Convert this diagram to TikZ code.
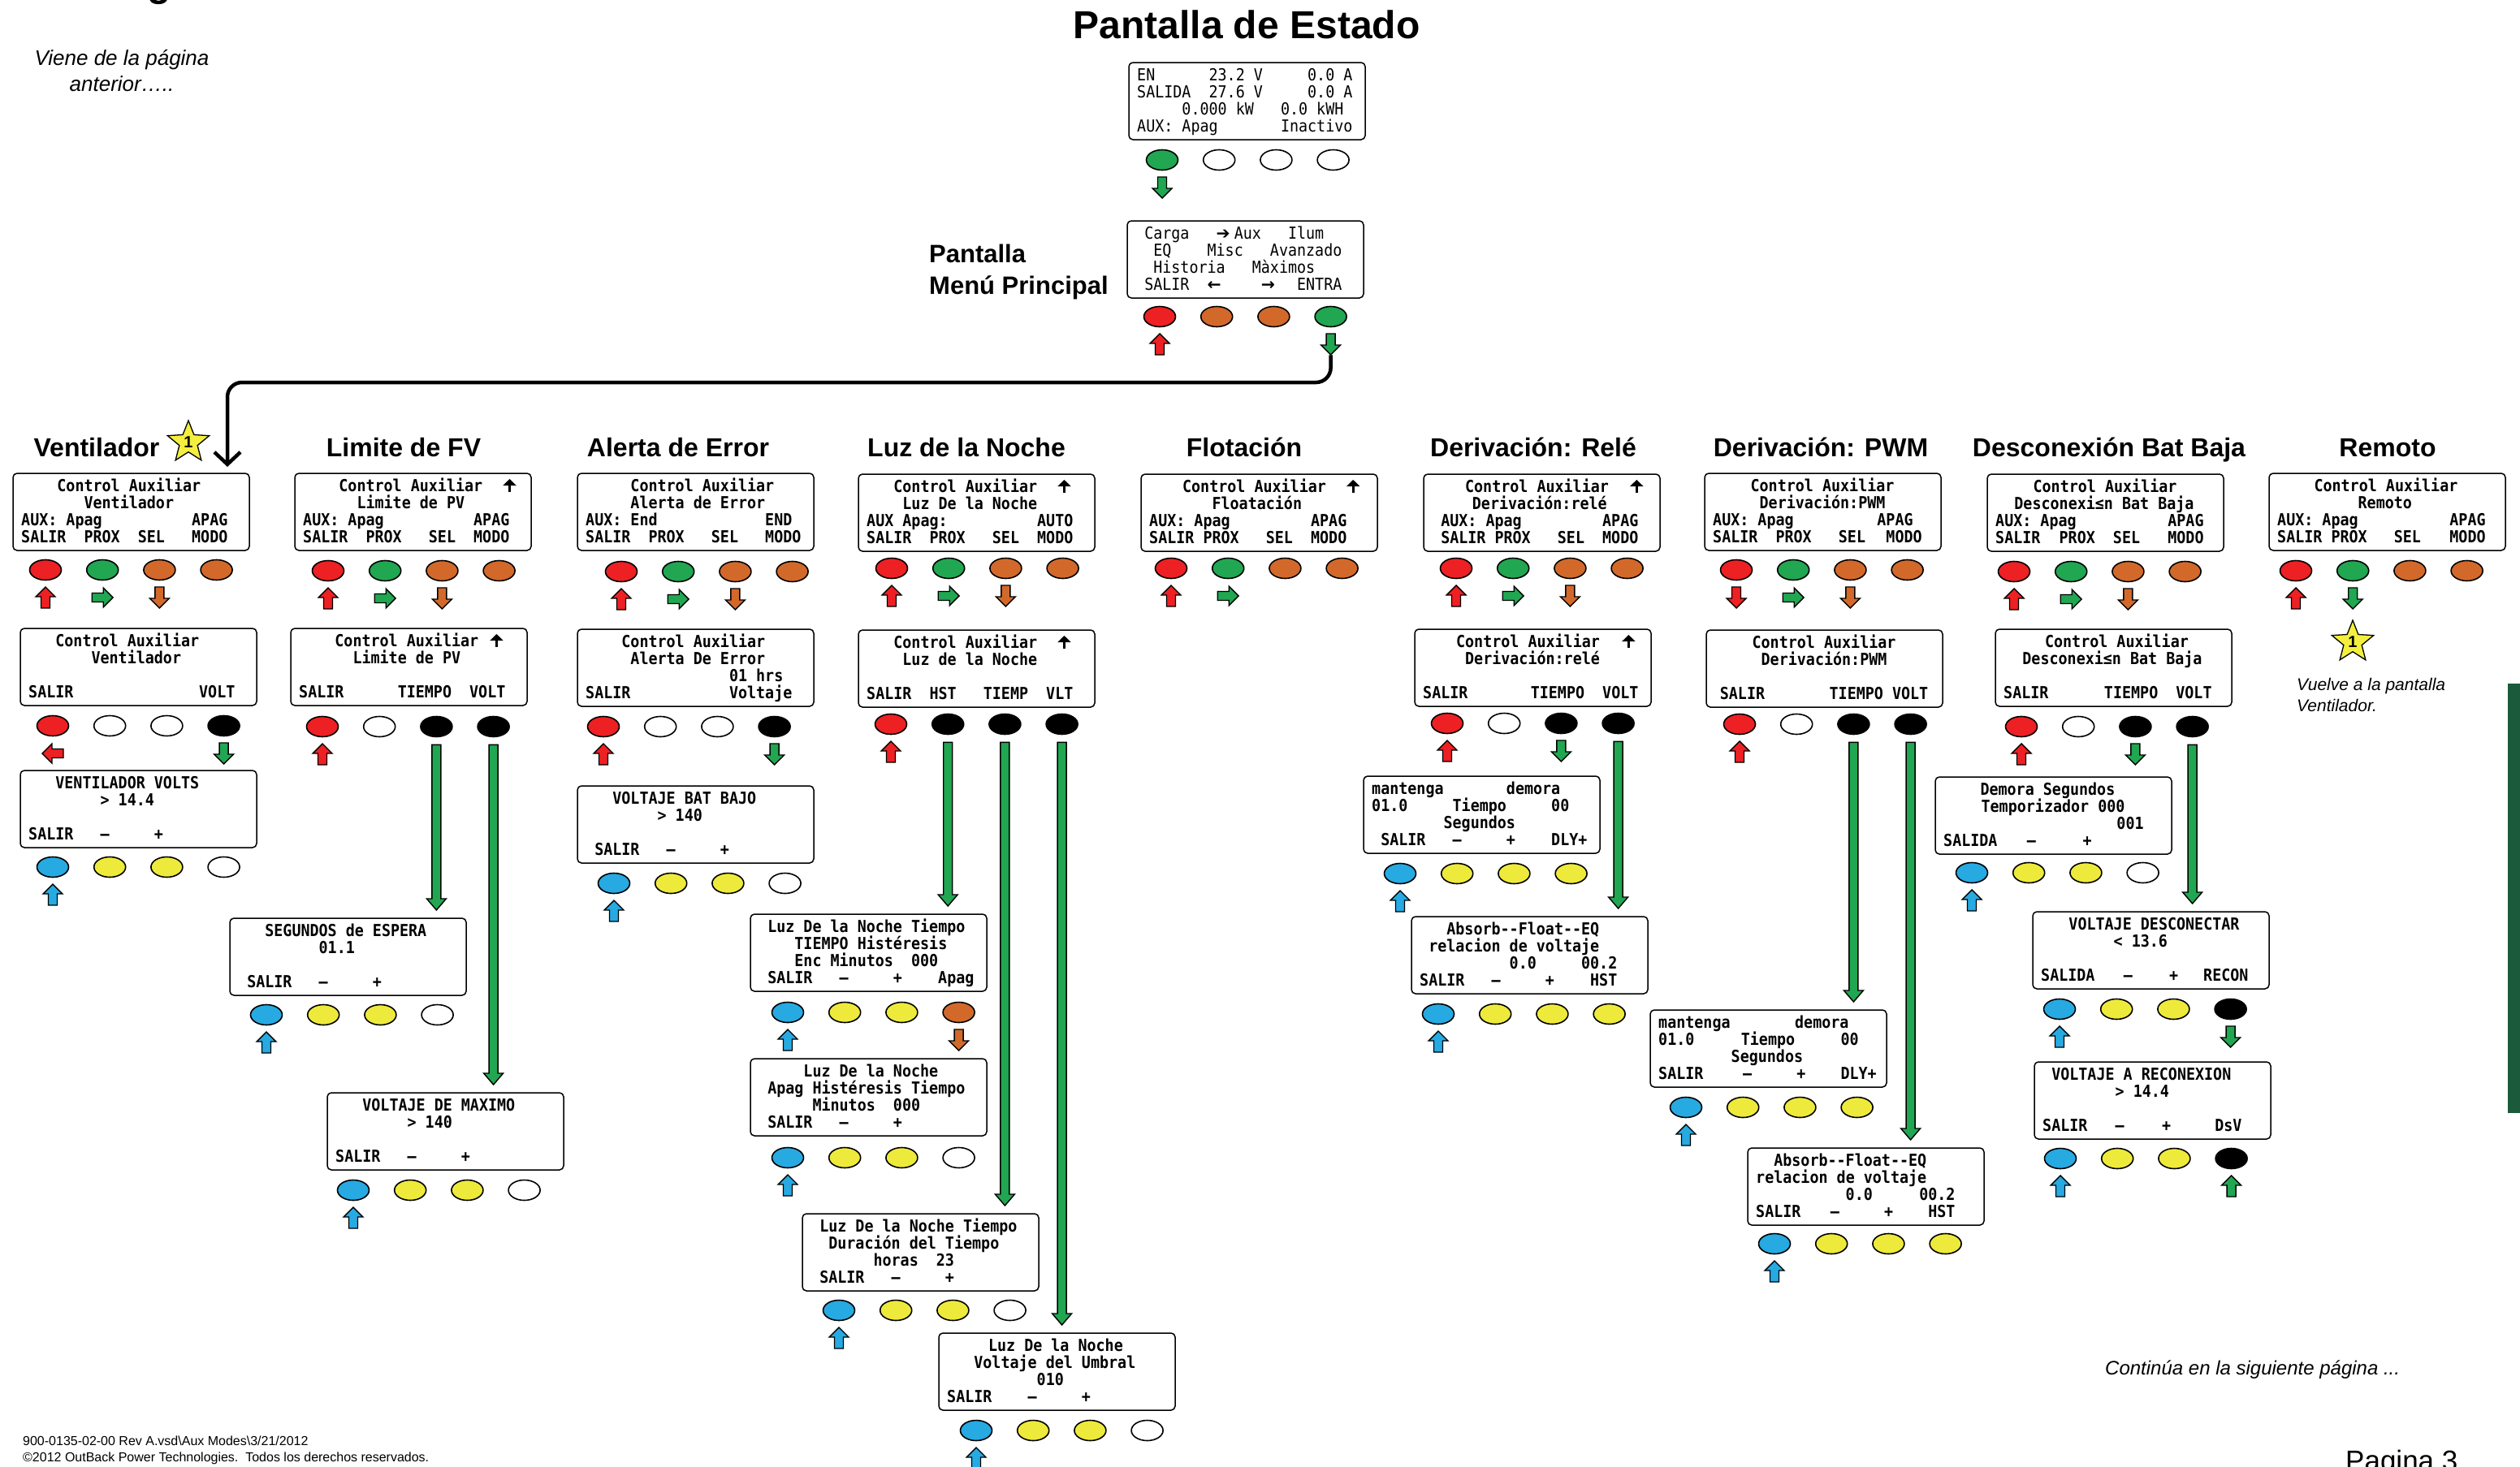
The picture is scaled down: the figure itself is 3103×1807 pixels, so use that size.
\documentclass[tikz,border=0pt]{standalone}
\usepackage{fontspec}
\setmainfont{Liberation Sans}
\newfontfamily\lcdf[FakeStretch=0.9]{DejaVu Sans Mono}
\newfontfamily\djs{DejaVu Sans}
\usetikzlibrary{shapes.geometric,arrows.meta,calc}
\definecolor{cR}{RGB}{237,32,36}
\definecolor{cG}{RGB}{33,166,81}
\definecolor{cO}{RGB}{210,105,42}
\definecolor{cB}{RGB}{39,169,225}
\definecolor{cY}{RGB}{238,234,59}
\definecolor{cW}{RGB}{255,255,255}
\definecolor{cK}{RGB}{0,0,0}
\definecolor{cS}{RGB}{244,239,62}
\definecolor{cDG}{RGB}{28,90,60}
\newcount\tn
\let\lw\relax
\newcommand\Lc[4]{\global\advance\tn by 1\relax
  \node[lcd, xshift={(10+(#2)*11.05)*1pt}, yshift={-(22+((#3)-1)*21.3)*1pt}] (t\the\tn) at (#1.north west) {\lw #4};}
\newcommand\scr[3]{\node[scrbox] (#1) at (#2,#3) {};}
\newcommand\btns[7]{\foreach \cc [count=\ii] in {#4,#5,#6,#7} {\node[btn, fill=\cc] (#1-b\ii) at ({#2+(\ii-1)*70.2},#3) {};}}
\newcommand\sa[3]{\draw[sarrow, fill=#3, shift={(#1)}, yshift=-34pt, rotate=#2] (0,-13) -- (12,-1) -- (5.5,-1) -- (5.5,13) -- (-5.5,13) -- (-5.5,-1) -- (-12,-1) -- cycle;}
\newcommand\la[2]{\draw[larrow] let \p1=(#1.south), \p2=(#2.north) in (\x1-5.5pt,\y1-9pt) -- (\x1+5.5pt,\y1-9pt) -- (\x1+5.5pt,\y2+24pt) -- (\x1+12pt,\y2+24pt) -- (\x1,\y2+10pt) -- (\x1-12pt,\y2+24pt) -- (\x1-5.5pt,\y2+24pt) -- cycle;}
\newcommand\upar[2]{\draw[uparrow] ([xshift={(10+(#2)*11.05+7)*1pt}, yshift=-23pt]#1.north west) -- ++(0,-16);}
\tikzset{
 scrbox/.style={draw, line width=1.5pt, rounded corners=5pt, minimum width=291pt, minimum height=95pt, inner sep=0pt, outer sep=0pt, anchor=north west},
 lcd/.style={font=\lcdf\fontsize{20.4}{22}\selectfont, inner sep=0pt, anchor=base west},
 btn/.style={ellipse, draw, line width=1.6pt, minimum width=39pt, minimum height=25pt, inner sep=0pt},
 sarrow/.style={draw, line width=1.4pt, line join=miter},
 larrow/.style={draw, line width=1.4pt, fill=cG},
 uparrow/.style={line width=3.2pt, -{Triangle[length=8pt,width=16pt]}},
 title/.style={font=\bfseries\fontsize{32}{36}\selectfont, anchor=base, inner sep=0pt},
 starnode/.style={star, star points=5, star point ratio=2.3, minimum size=54pt, draw, line width=1.3pt, fill=cS, inner sep=0pt, font=\bfseries\fontsize{20}{20}\selectfont},
 note/.style={font=\itshape\fontsize{26}{30}\selectfont, inner sep=0pt, anchor=base},
 small/.style={font=\itshape\fontsize{21}{24}\selectfont, inner sep=0pt, anchor=base west},
 foot/.style={font=\fontsize{16}{18}\selectfont, inner sep=0pt, anchor=base west},
}
\begin{document}
\begin{tikzpicture}[x=1pt,y=-1pt]
\fill[white] (0,0) rectangle (3103,1807);
\useasboundingbox (0,0) rectangle (3103,1807);
% fragments and notes
\node[font=\bfseries\fontsize{48}{52}\selectfont, anchor=base west, inner sep=0pt] (gfrag) at (181,-5) {g};
\node[note] (viene1) at (150,80) {Viene de la página};
\node[note] (viene2) at (150,112) {anterior…..};
\node[font=\bfseries\fontsize{48}{52}\selectfont, anchor=base, inner sep=0pt] (ttl) at (1535,47) {Pantalla de Estado};
\node[font=\bfseries\fontsize{31}{36}\selectfont, anchor=base west, inner sep=0pt] (mp1) at (1144,323) {Pantalla};
\node[font=\bfseries\fontsize{31}{36}\selectfont, anchor=base west, inner sep=0pt] (mp2) at (1144,362) {Menú Principal};
% column titles
\node[title] (h1) at (119,562) {Ventilador};
\node[title] (h2) at (497,562) {Limite de FV};
\node[title] (h3) at (835,562) {Alerta de Error};
\node[title] (h4) at (1190,562) {Luz de la Noche};
\node[title] (h5) at (1532,562) {Flotación};
\node[title] (h6) at (1888,562) {Derivación: Relé};
\node[title] (h7) at (2242,562) {Derivación: PWM};
\node[title] (h8) at (2597,562) {Desconexión Bat Baja};
\node[title] (h9) at (2940,562) {Remoto};
\node[starnode] (star1) at (232,545) {1};
% ---------------- screens
\scr{ST}{1390}{77}
\Lc{ST}{0}{1}{EN}\Lc{ST}{8}{1}{23.2 V}\Lc{ST}{19}{1}{0.0 A}
\Lc{ST}{0}{2}{SALIDA}\Lc{ST}{8}{2}{27.6 V}\Lc{ST}{19}{2}{0.0 A}
\Lc{ST}{5}{3}{0.000 kW}\Lc{ST}{16}{3}{0.0 kWH}
\Lc{ST}{0}{4}{AUX: Apag}\Lc{ST}{16}{4}{Inactivo}
\btns{ST}{1431}{197}{cG}{cW}{cW}{cW}
\sa{ST-b1}{180}{cG}

\scr{MM}{1388}{272}
\Lc{MM}{1}{1}{Carga}\Lc{MM}{9}{1}{{\djs\bfseries ➔}}\Lc{MM}{11}{1}{Aux}\Lc{MM}{17}{1}{Ilum}
\Lc{MM}{2}{2}{EQ}\Lc{MM}{8}{2}{Misc}\Lc{MM}{15}{2}{Avanzado}
\Lc{MM}{2}{3}{Historia}\Lc{MM}{13}{3}{Màximos}
\Lc{MM}{1}{4}{SALIR}\Lc{MM}{8}{4}{{\djs\bfseries ←}}\Lc{MM}{14}{4}{{\djs\bfseries →}}\Lc{MM}{18}{4}{ENTRA}
\btns{MM}{1428}{390}{cR}{cO}{cO}{cG}
\let\lw\bfseries

% Ventilador
\scr{S1a}{16}{583}
\Lc{S1a}{4}{1}{Control Auxiliar}\Lc{S1a}{7}{2}{Ventilador}
\Lc{S1a}{0}{3}{AUX: Apag}\Lc{S1a}{19}{3}{APAG}
\Lc{S1a}{0}{4}{SALIR}\Lc{S1a}{7}{4}{PROX}\Lc{S1a}{13}{4}{SEL}\Lc{S1a}{19}{4}{MODO}
\btns{S1a}{56}{702}{cR}{cG}{cO}{cO}
\sa{S1a-b1}{0}{cR}\sa{S1a-b2}{-90}{cG}\sa{S1a-b3}{180}{cO}
\coordinate (vbend) at (280,471);
\draw[line width=4.5pt, rounded corners=18pt, -{Straight Barb[length=15pt,width=32pt]}, shorten >=8pt] ([yshift=-34pt]MM-b4.south) |- (vbend) -- (vbend |- S1a.north);
\sa{MM-b1}{0}{cR}\sa{MM-b4}{180}{cG}
\scr{S1b}{25}{774}
\Lc{S1b}{3}{1}{Control Auxiliar}\Lc{S1b}{7}{2}{Ventilador}
\Lc{S1b}{0}{4}{SALIR}\Lc{S1b}{19}{4}{VOLT}
\btns{S1b}{65}{894}{cR}{cW}{cW}{cK}
\sa{S1b-b1}{90}{cR}\sa{S1b-b4}{180}{cG}
\scr{S1c}{25}{949}
\Lc{S1c}{3}{1}{VENTILADOR VOLTS}\Lc{S1c}{8}{2}{> 14.4}
\Lc{S1c}{0}{4}{SALIR}\Lc{S1c}{8}{4}{–}\Lc{S1c}{14}{4}{+}
\btns{S1c}{65}{1068}{cB}{cY}{cY}{cW}
\sa{S1c-b1}{0}{cB}

% Limite de FV
\scr{S2a}{363}{583}
\Lc{S2a}{4}{1}{Control Auxiliar}\upar{S2a}{22.4}\Lc{S2a}{6}{2}{Limite de PV}
\Lc{S2a}{0}{3}{AUX: Apag}\Lc{S2a}{19}{3}{APAG}
\Lc{S2a}{0}{4}{SALIR}\Lc{S2a}{7}{4}{PROX}\Lc{S2a}{14}{4}{SEL}\Lc{S2a}{19}{4}{MODO}
\btns{S2a}{404}{703}{cR}{cG}{cO}{cO}
\sa{S2a-b1}{0}{cR}\sa{S2a-b2}{-90}{cG}\sa{S2a-b3}{180}{cO}
\scr{S2b}{358}{774}
\Lc{S2b}{4}{1}{Control Auxiliar}\upar{S2b}{21.4}\Lc{S2b}{6}{2}{Limite de PV}
\Lc{S2b}{0}{4}{SALIR}\Lc{S2b}{11}{4}{TIEMPO}\Lc{S2b}{19}{4}{VOLT}
\btns{S2b}{397}{895}{cR}{cW}{cK}{cK}
\sa{S2b-b1}{0}{cR}
\scr{S2c}{283}{1131}
\Lc{S2c}{3}{1}{SEGUNDOS de ESPERA}\Lc{S2c}{9}{2}{01.1}
\Lc{S2c}{1}{4}{SALIR}\Lc{S2c}{9}{4}{–}\Lc{S2c}{15}{4}{+}
\btns{S2c}{328}{1250}{cB}{cY}{cY}{cW}
\sa{S2c-b1}{0}{cB}
\scr{S2d}{403}{1346}
\Lc{S2d}{3}{1}{VOLTAJE DE MAXIMO}\Lc{S2d}{8}{2}{> 140}
\Lc{S2d}{0}{4}{SALIR}\Lc{S2d}{8}{4}{–}\Lc{S2d}{14}{4}{+}
\btns{S2d}{435}{1466}{cB}{cY}{cY}{cW}
\sa{S2d-b1}{0}{cB}
\la{S2b-b3}{S2c}\la{S2b-b4}{S2d}

% Alerta de Error
\scr{S3a}{711}{583}
\Lc{S3a}{5}{1}{Control Auxiliar}\Lc{S3a}{5}{2}{Alerta de Error}
\Lc{S3a}{0}{3}{AUX: End}\Lc{S3a}{20}{3}{END}
\Lc{S3a}{0}{4}{SALIR}\Lc{S3a}{7}{4}{PROX}\Lc{S3a}{14}{4}{SEL}\Lc{S3a}{20}{4}{MODO}
\btns{S3a}{765}{704}{cR}{cG}{cO}{cO}
\sa{S3a-b1}{0}{cR}\sa{S3a-b2}{-90}{cG}\sa{S3a-b3}{180}{cO}
\scr{S3b}{711}{775}
\Lc{S3b}{4}{1}{Control Auxiliar}\Lc{S3b}{5}{2}{Alerta De Error}\Lc{S3b}{16}{3}{01 hrs}
\Lc{S3b}{0}{4}{SALIR}\Lc{S3b}{16}{4}{Voltaje}
\btns{S3b}{743}{895}{cR}{cW}{cW}{cK}
\sa{S3b-b1}{0}{cR}\sa{S3b-b4}{180}{cG}
\scr{S3c}{711}{968}
\Lc{S3c}{3}{1}{VOLTAJE BAT BAJO}\Lc{S3c}{8}{2}{> 140}
\Lc{S3c}{1}{4}{SALIR}\Lc{S3c}{9}{4}{–}\Lc{S3c}{15}{4}{+}
\btns{S3c}{756}{1088}{cB}{cY}{cY}{cW}
\sa{S3c-b1}{0}{cB}

% Luz de la Noche
\scr{S4a}{1057}{584}
\Lc{S4a}{3}{1}{Control Auxiliar}\upar{S4a}{21.4}\Lc{S4a}{4}{2}{Luz De la Noche}
\Lc{S4a}{0}{3}{AUX Apag:}\Lc{S4a}{19}{3}{AUTO}
\Lc{S4a}{0}{4}{SALIR}\Lc{S4a}{7}{4}{PROX}\Lc{S4a}{14}{4}{SEL}\Lc{S4a}{19}{4}{MODO}
\btns{S4a}{1098}{700}{cR}{cG}{cO}{cO}
\sa{S4a-b1}{0}{cR}\sa{S4a-b2}{-90}{cG}\sa{S4a-b3}{180}{cO}
\scr{S4b}{1057}{776}
\Lc{S4b}{3}{1}{Control Auxiliar}\upar{S4b}{21.4}\Lc{S4b}{4}{2}{Luz de la Noche}
\Lc{S4b}{0}{4}{SALIR}\Lc{S4b}{7}{4}{HST}\Lc{S4b}{13}{4}{TIEMP}\Lc{S4b}{20}{4}{VLT}
\btns{S4b}{1097}{892}{cR}{cK}{cK}{cK}
\sa{S4b-b1}{0}{cR}
\scr{S4c}{924}{1126}
\Lc{S4c}{1}{1}{Luz De la Noche Tiempo}\Lc{S4c}{4}{2}{TIEMPO Histéresis}
\Lc{S4c}{4}{3}{Enc Minutos}\Lc{S4c}{17}{3}{000}
\Lc{S4c}{1}{4}{SALIR}\Lc{S4c}{9}{4}{–}\Lc{S4c}{15}{4}{+}\Lc{S4c}{20}{4}{Apag}
\btns{S4c}{970}{1247}{cB}{cY}{cY}{cO}
\sa{S4c-b1}{0}{cB}\sa{S4c-b4}{180}{cO}
\scr{S4d}{924}{1304}
\Lc{S4d}{5}{1}{Luz De la Noche}\Lc{S4d}{1}{2}{Apag Histéresis Tiempo}
\Lc{S4d}{6}{3}{Minutos}\Lc{S4d}{15}{3}{000}
\Lc{S4d}{1}{4}{SALIR}\Lc{S4d}{9}{4}{–}\Lc{S4d}{15}{4}{+}
\btns{S4d}{970}{1426}{cB}{cY}{cY}{cW}
\sa{S4d-b1}{0}{cB}
\scr{S4e}{988}{1495}
\Lc{S4e}{1}{1}{Luz De la Noche Tiempo}\Lc{S4e}{2}{2}{Duración del Tiempo}
\Lc{S4e}{7}{3}{horas}\Lc{S4e}{14}{3}{23}
\Lc{S4e}{1}{4}{SALIR}\Lc{S4e}{9}{4}{–}\Lc{S4e}{15}{4}{+}
\btns{S4e}{1033}{1614}{cB}{cY}{cY}{cW}
\sa{S4e-b1}{0}{cB}
\scr{S4f}{1156}{1642}
\Lc{S4f}{4.6}{1}{Luz De la Noche}\Lc{S4f}{3}{2}{Voltaje del Umbral}\Lc{S4f}{10}{3}{010}
\Lc{S4f}{0}{4}{SALIR}\Lc{S4f}{9}{4}{–}\Lc{S4f}{15}{4}{+}
\btns{S4f}{1202}{1762}{cB}{cY}{cY}{cW}
\sa{S4f-b1}{0}{cB}
\la{S4b-b2}{S4c}\la{S4b-b3}{S4e}\la{S4b-b4}{S4f}

% Flotacion
\scr{S5a}{1405}{584}
\Lc{S5a}{3.7}{1}{Control Auxiliar}\upar{S5a}{22.1}\Lc{S5a}{7}{2}{Floatación}
\Lc{S5a}{0}{3}{AUX: Apag}\Lc{S5a}{18}{3}{APAG}
\Lc{S5a}{0}{4}{SALIR}\Lc{S5a}{6}{4}{PROX}\Lc{S5a}{13}{4}{SEL}\Lc{S5a}{18}{4}{MODO}
\btns{S5a}{1442}{700}{cR}{cG}{cO}{cO}
\sa{S5a-b1}{0}{cR}\sa{S5a-b2}{-90}{cG}

% Derivacion rele
\scr{S6a}{1753}{584}
\Lc{S6a}{3.7}{1}{Control Auxiliar}\upar{S6a}{22.2}\Lc{S6a}{4.5}{2}{Derivación:relé}
\Lc{S6a}{1}{3}{AUX: Apag}\Lc{S6a}{19}{3}{APAG}
\Lc{S6a}{1}{4}{SALIR}\Lc{S6a}{7}{4}{PROX}\Lc{S6a}{14}{4}{SEL}\Lc{S6a}{19}{4}{MODO}
\btns{S6a}{1793}{700}{cR}{cG}{cO}{cO}
\sa{S6a-b1}{0}{cR}\sa{S6a-b2}{-90}{cG}\sa{S6a-b3}{180}{cO}
\scr{S6b}{1742}{775}
\Lc{S6b}{3.7}{1}{Control Auxiliar}\upar{S6b}{22.3}\Lc{S6b}{4.7}{2}{Derivación:relé}
\Lc{S6b}{0}{4}{SALIR}\Lc{S6b}{12}{4}{TIEMPO}\Lc{S6b}{20}{4}{VOLT}
\btns{S6b}{1782}{891}{cR}{cW}{cK}{cK}
\sa{S6b-b1}{0}{cR}\sa{S6b-b3}{180}{cG}
\scr{S6c}{1679}{956}
\Lc{S6c}{0}{1}{mantenga}\Lc{S6c}{15}{1}{demora}
\Lc{S6c}{0}{2}{01.0}\Lc{S6c}{9}{2}{Tiempo}\Lc{S6c}{20}{2}{00}
\Lc{S6c}{8}{3}{Segundos}
\Lc{S6c}{1}{4}{SALIR}\Lc{S6c}{9}{4}{–}\Lc{S6c}{15}{4}{+}\Lc{S6c}{20}{4}{DLY+}
\btns{S6c}{1724}{1076}{cB}{cY}{cY}{cY}
\sa{S6c-b1}{0}{cB}
\scr{S6d}{1738}{1129}
\Lc{S6d}{3}{1}{Absorb-{}-Float-{}-EQ}\Lc{S6d}{1}{2}{relacion de voltaje}
\Lc{S6d}{10}{3}{0.0}\Lc{S6d}{18}{3}{00.2}
\Lc{S6d}{0}{4}{SALIR}\Lc{S6d}{8}{4}{–}\Lc{S6d}{14}{4}{+}\Lc{S6d}{19}{4}{HST}
\btns{S6d}{1771}{1249}{cB}{cY}{cY}{cY}
\sa{S6d-b1}{0}{cB}
\la{S6b-b4}{S6d}

% Derivacion PWM
\scr{S7a}{2099}{583}
\Lc{S7a}{4.2}{1}{Control Auxiliar}\Lc{S7a}{5.2}{2}{Derivación:PWM}
\Lc{S7a}{0}{3}{AUX: Apag}\Lc{S7a}{18.3}{3}{APAG}
\Lc{S7a}{0}{4}{SALIR}\Lc{S7a}{7}{4}{PROX}\Lc{S7a}{14}{4}{SEL}\Lc{S7a}{19.3}{4}{MODO}
\btns{S7a}{2138}{702}{cR}{cG}{cO}{cO}
\sa{S7a-b1}{180}{cR}\sa{S7a-b2}{-90}{cG}\sa{S7a-b3}{180}{cO}
\scr{S7b}{2101}{776}
\Lc{S7b}{4.2}{1}{Control Auxiliar}\Lc{S7b}{5.2}{2}{Derivación:PWM}
\Lc{S7b}{0.6}{4}{SALIR}\Lc{S7b}{12.8}{4}{TIEMPO}\Lc{S7b}{19.8}{4}{VOLT}
\btns{S7b}{2142}{892}{cR}{cW}{cK}{cK}
\sa{S7b-b1}{0}{cR}
\scr{S7c}{2032}{1244}
\Lc{S7c}{0}{1}{mantenga}\Lc{S7c}{15.2}{1}{demora}
\Lc{S7c}{0}{2}{01.0}\Lc{S7c}{9.2}{2}{Tiempo}\Lc{S7c}{20.3}{2}{00}
\Lc{S7c}{8.1}{3}{Segundos}
\Lc{S7c}{0}{4}{SALIR}\Lc{S7c}{9.4}{4}{–}\Lc{S7c}{15.4}{4}{+}\Lc{S7c}{20.3}{4}{DLY+}
\btns{S7c}{2076}{1364}{cB}{cY}{cY}{cY}
\sa{S7c-b1}{0}{cB}
\scr{S7d}{2152}{1414}
\Lc{S7d}{2}{1}{Absorb-{}-Float-{}-EQ}\Lc{S7d}{0}{2}{relacion de voltaje}
\Lc{S7d}{10}{3}{0.0}\Lc{S7d}{18.2}{3}{00.2}
\Lc{S7d}{0}{4}{SALIR}\Lc{S7d}{8.3}{4}{–}\Lc{S7d}{14.3}{4}{+}\Lc{S7d}{19.2}{4}{HST}
\btns{S7d}{2185}{1532}{cB}{cY}{cY}{cY}
\sa{S7d-b1}{0}{cB}
\la{S7b-b3}{S7c}\la{S7b-b4}{S7d}

% Desconexion Bat Baja
\scr{S8a}{2447}{584}
\Lc{S8a}{4.2}{1}{Control Auxiliar}\Lc{S8a}{2.1}{2}{Desconexi≤n Bat Baja}
\Lc{S8a}{0}{3}{AUX: Apag}\Lc{S8a}{19.2}{3}{APAG}
\Lc{S8a}{0}{4}{SALIR}\Lc{S8a}{7.1}{4}{PROX}\Lc{S8a}{13.1}{4}{SEL}\Lc{S8a}{19.2}{4}{MODO}
\btns{S8a}{2480}{704}{cR}{cG}{cO}{cO}
\sa{S8a-b1}{0}{cR}\sa{S8a-b2}{-90}{cG}\sa{S8a-b3}{180}{cO}
\scr{S8b}{2457}{775}
\Lc{S8b}{4.6}{1}{Control Auxiliar}\Lc{S8b}{2.1}{2}{Desconexi≤n Bat Baja}
\Lc{S8b}{0}{4}{SALIR}\Lc{S8b}{11.2}{4}{TIEMPO}\Lc{S8b}{19.2}{4}{VOLT}
\btns{S8b}{2489}{895}{cR}{cW}{cK}{cK}
\sa{S8b-b1}{0}{cR}\sa{S8b-b3}{180}{cG}
\scr{S8c}{2383}{957}
\Lc{S8c}{4.1}{1}{Demora Segundos}\Lc{S8c}{4.2}{2}{Temporizador 000}\Lc{S8c}{19.3}{3}{001}
\Lc{S8c}{0}{4}{SALIDA}\Lc{S8c}{9.3}{4}{–}\Lc{S8c}{15.5}{4}{+}
\btns{S8c}{2428}{1075}{cB}{cY}{cY}{cW}
\sa{S8c-b1}{0}{cB}
\scr{S8d}{2503}{1123}
\Lc{S8d}{3.1}{1}{VOLTAJE DESCONECTAR}\Lc{S8d}{8.1}{2}{< 13.6}
\Lc{S8d}{0}{4}{SALIDA}\Lc{S8d}{9.2}{4}{–}\Lc{S8d}{14.3}{4}{+}\Lc{S8d}{18.1}{4}{RECON}
\btns{S8d}{2536}{1243}{cB}{cY}{cY}{cK}
\sa{S8d-b1}{0}{cB}\sa{S8d-b4}{180}{cG}
\scr{S8e}{2505}{1308}
\Lc{S8e}{1}{1}{VOLTAJE A RECONEXION}\Lc{S8e}{8.1}{2}{> 14.4}
\Lc{S8e}{0}{4}{SALIR}\Lc{S8e}{8.1}{4}{–}\Lc{S8e}{13.3}{4}{+}\Lc{S8e}{19.2}{4}{DsV}
\btns{S8e}{2537}{1427}{cB}{cY}{cY}{cK}
\sa{S8e-b1}{0}{cB}\sa{S8e-b4}{0}{cG}
\la{S8b-b4}{S8d}

% Remoto
\scr{S9a}{2794}{583}
\Lc{S9a}{4.1}{1}{Control Auxiliar}\Lc{S9a}{9}{2}{Remoto}
\Lc{S9a}{0}{3}{AUX: Apag}\Lc{S9a}{19.2}{3}{APAG}
\Lc{S9a}{0}{4}{SALIR}\Lc{S9a}{6}{4}{PROX}\Lc{S9a}{13}{4}{SEL}\Lc{S9a}{19.2}{4}{MODO}
\btns{S9a}{2827}{703}{cR}{cG}{cO}{cO}
\sa{S9a-b1}{0}{cR}\sa{S9a-b2}{180}{cG}
\node[starnode] (star2) at (2897,791) {1};
\node[small] (vu1) at (2828,850) {Vuelve a la pantalla};
\node[small] (vu2) at (2828,876) {Ventilador.};
\fill[cDG] (3088,842) rectangle (3103,1371);
% footer
\node[font=\itshape\fontsize{24}{28}\selectfont, anchor=base west, inner sep=0pt] (cont) at (2592,1693) {Continúa en la siguiente página ...};
\node[foot] (f1) at (28,1780) {900-0135-02-00 Rev A.vsd\textbackslash Aux Modes\textbackslash 3/21/2012};
\node[foot] (f2) at (28,1800) {©2012 OutBack Power Technologies.\ \ Todos los derechos reservados.};
\node[font=\fontsize{35}{40}\selectfont, anchor=base west, inner sep=0pt] (pg) at (2888,1811) {Pagina 3};
\end{tikzpicture}
\end{document}
